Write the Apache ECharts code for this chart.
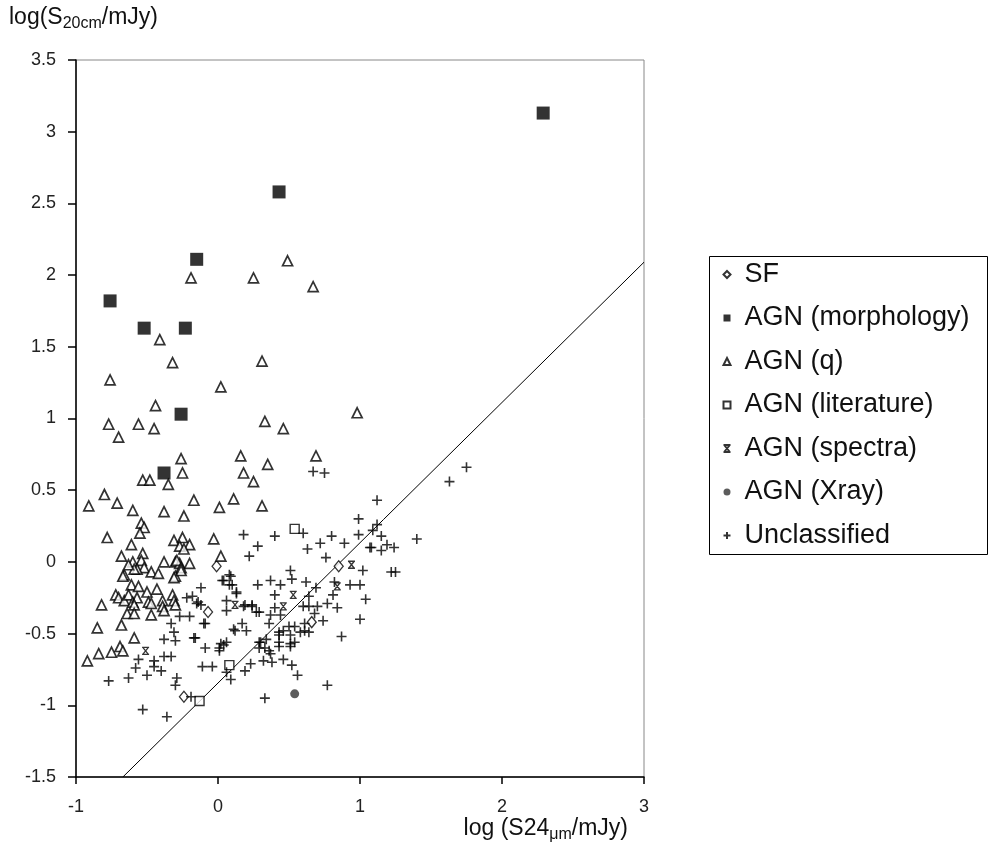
<!DOCTYPE html>
<html>
<head>
<meta charset="UTF-8">
<title>log S20cm vs log S24um</title>
<script src="https://cdn.jsdelivr.net/npm/echarts@6/dist/echarts.min.js"></script>
<style>
  html, body { margin: 0; padding: 0; background: #fff; }
  #container { width: 997px; height: 848px; }
</style>
</head>
<body>
<div id="container"></div>
<script type="text/javascript">
// values: [log S24um, log S20cm]
var sfPts = [[-0.01, -0.03], [-0.07, -0.35], [-0.24, -0.94], [0.85, -0.03], [0.66, -0.42]];

var morphPts = [[2.29, 3.13], [0.43, 2.58], [-0.15, 2.11], [-0.76, 1.82], [-0.52, 1.63],
  [-0.23, 1.63], [-0.26, 1.03], [-0.38, 0.62]];

var qPts = [[0.49, 2.10], [-0.19, 1.98], [0.25, 1.98], [0.67, 1.92], [-0.41, 1.55], [-0.32, 1.39],
  [0.31, 1.40], [-0.76, 1.27], [0.02, 1.22], [-0.44, 1.09], [0.98, 1.04], [-0.77, 0.96],
  [-0.56, 0.96], [-0.45, 0.93], [0.33, 0.98], [0.46, 0.93], [-0.70, 0.87], [-0.26, 0.72],
  [0.16, 0.74], [0.69, 0.74], [0.35, 0.68], [-0.53, 0.57], [-0.48, 0.57], [-0.25, 0.62],
  [-0.35, 0.54], [0.18, 0.62], [0.25, 0.56], [-0.80, 0.47], [-0.91, 0.39], [-0.71, 0.41],
  [-0.60, 0.36], [-0.38, 0.35], [-0.17, 0.43], [-0.24, 0.32], [0.01, 0.38], [0.11, 0.44],
  [0.31, 0.39], [-0.54, 0.27], [-0.52, 0.24], [-0.55, 0.20], [-0.78, 0.17], [-0.61, 0.12],
  [-0.31, 0.15], [-0.25, 0.17], [-0.27, 0.11], [-0.20, 0.12], [-0.24, 0.09], [-0.03, 0.16],
  [0.02, 0.04], [-0.68, 0.04], [-0.60, 0.00], [-0.53, 0.06], [-0.54, 0.01], [-0.52, -0.04],
  [-0.38, 0.00], [-0.30, 0.00], [-0.27, -0.01], [-0.20, -0.01], [-0.29, 0.01], [-0.26, -0.04],
  [-0.66, -0.09], [-0.47, -0.07], [-0.42, -0.08], [-0.30, -0.10], [-0.26, -0.06], [-0.57, -0.05],
  [-0.59, -0.05], [-0.63, -0.02], [-0.67, -0.10], [-0.61, -0.16], [-0.56, -0.17], [-0.31, -0.11],
  [-0.72, -0.23], [-0.70, -0.25], [-0.66, -0.27], [-0.63, -0.23], [-0.60, -0.28], [-0.57, -0.25],
  [-0.59, -0.30], [-0.50, -0.21], [-0.49, -0.28], [-0.47, -0.29], [-0.43, -0.19], [-0.39, -0.27],
  [-0.32, -0.23], [-0.31, -0.27], [-0.39, -0.31], [-0.30, -0.30], [-0.82, -0.30], [-0.64, -0.36],
  [-0.59, -0.36], [-0.47, -0.37], [-0.38, -0.34], [-0.85, -0.46], [-0.68, -0.44], [-0.59, -0.53],
  [-0.69, -0.59], [-0.67, -0.62], [-0.75, -0.63], [-0.84, -0.64], [-0.92, -0.69]];

var litPts = [[0.54, 0.23], [0.08, -0.72], [-0.13, -0.97]];

var specPts = [[0.94, -0.02], [0.84, -0.17], [0.12, -0.30], [-0.51, -0.62], [0.46, -0.31], [0.53, -0.23]];

var xrayPts = [[0.54, -0.92]];

var unclPts = [[0.18, 0.19], [0.28, 0.11], [0.22, 0.04], [0.08, -0.09], [0.67, 0.63], [0.75, 0.62],
  [0.40, 0.18], [0.60, 0.20], [0.72, 0.13], [0.80, 0.18], [0.63, 0.09], [0.89, 0.13], [0.99, 0.30],
  [0.99, 0.19], [1.08, 0.10], [1.12, 0.43], [0.76, 0.03], [1.02, -0.06], [0.51, -0.06], [0.52, -0.12],
  [0.62, -0.14], [0.69, -0.18], [0.82, -0.14], [0.93, -0.16], [1.00, -0.16], [0.81, -0.23],
  [1.04, -0.26], [0.77, -0.29], [0.84, -0.32], [1.00, -0.40], [0.87, -0.52], [0.40, -0.23],
  [0.28, -0.16], [0.37, -0.13], [0.44, -0.16], [0.03, -0.13], [0.09, -0.10], [0.08, -0.16],
  [0.13, -0.22], [-0.12, -0.18], [-0.22, -0.25], [-0.18, -0.24], [-0.14, -0.28], [-0.12, -0.30],
  [0.19, -0.30], [0.24, -0.30], [0.06, -0.34], [0.29, -0.35], [0.40, -0.32], [0.64, -0.24],
  [0.70, -0.31], [0.37, -0.37], [0.44, -0.37], [-0.10, -0.43], [0.17, -0.43], [0.20, -0.48],
  [0.12, -0.48], [0.36, -0.43], [0.43, -0.49], [0.46, -0.48], [0.50, -0.45], [0.54, -0.45],
  [0.51, -0.51], [0.58, -0.49], [0.61, -0.48], [0.64, -0.49], [0.61, -0.43], [0.74, -0.41],
  [-0.17, -0.53], [0.02, -0.57], [0.06, -0.56], [0.29, -0.56], [0.33, -0.60], [0.43, -0.59],
  [0.51, -0.59], [0.54, -0.56], [-0.27, -0.38], [-0.20, -0.38], [-0.09, -0.43], [-0.33, -0.43],
  [-0.31, -0.49], [-0.38, -0.54], [-0.30, -0.55], [-0.16, -0.53], [-0.56, -0.68], [-0.45, -0.69],
  [-0.38, -0.66], [-0.33, -0.66], [-0.58, -0.74], [-0.45, -0.73], [-0.40, -0.76], [-0.50, -0.79],
  [-0.77, -0.83], [-0.63, -0.81], [-0.29, -0.81], [-0.30, -0.86], [-0.09, -0.60], [0.01, -0.60],
  [0.04, -0.58], [0.01, -0.62], [-0.11, -0.73], [-0.04, -0.73], [0.06, -0.77], [0.09, -0.82],
  [-0.19, -0.94], [-0.53, -1.03], [-0.36, -1.08], [0.19, -0.76], [0.23, -0.71], [0.04, -0.13],
  [0.10, -0.16], [0.13, -0.21], [-0.15, -0.29], [0.06, -0.27], [0.18, -0.31], [0.24, -0.31],
  [0.27, -0.35], [0.11, -0.47], [0.33, -0.95], [0.77, -0.86], [0.56, -0.79], [0.52, -0.72],
  [0.46, -0.68], [0.38, -0.70], [0.32, -0.69], [0.36, -0.62], [0.37, -0.64], [0.43, -0.56],
  [0.43, -0.51], [0.51, -0.57], [0.30, -0.56], [0.34, -0.54], [0.29, -0.60], [1.75, 0.66],
  [1.63, 0.56], [1.12, 0.26], [1.09, 0.22], [1.40, 0.16], [1.15, 0.18], [1.07, 0.10], [1.15, 0.08],
  [1.19, 0.12], [1.24, 0.10], [1.22, -0.07], [1.25, -0.07], [0.68, -0.36], [0.60, -0.31],
  [0.64, -0.31]];

// dividing line
var lineX = [-0.67, 3];
var lineY = [-1.5, 2.09];

var seriesNames = ['SF', 'AGN (morphology)', 'AGN (q)', 'AGN (literature)', 'AGN (spectra)', 'AGN (Xray)', 'Unclassified'];

var plusPath = 'path://M5,0L5,10M0,5L10,5';
var specPath = 'path://M0,0L10,0M0,10L10,10M1,0L9,10M9,0L1,10';

var dom = document.getElementById('container');
var myChart = echarts.init(dom);
var font = '"Liberation Sans", Arial, sans-serif';

var option = {
    backgroundColor: '#fff',
    animation: false,
    grid: {
        left: 76, right: 353, top: 60, bottom: 71,
        show: true, borderColor: '#888', borderWidth: 1
    },
    xAxis: {
        type: 'value', min: -1, max: 3, interval: 1,
        axisLine: {show: true, onZero: false, lineStyle: {color: '#000', width: 1.5}},
        axisTick: {show: true, length: 7, lineStyle: {color: '#000', width: 1.5}},
        splitLine: {show: false},
        axisLabel: {color: '#222', fontSize: 18, fontFamily: font, margin: 21}
    },
    yAxis: {
        type: 'value', min: -1.5, max: 3.5, interval: 0.5,
        axisLine: {show: true, onZero: false, lineStyle: {color: '#000', width: 1.5}},
        axisTick: {show: true, length: 8, lineStyle: {color: '#000', width: 1.5}},
        splitLine: {show: false},
        axisLabel: {color: '#222', fontSize: 18, fontFamily: font, margin: 20}
    },
    legend: {
        data: seriesNames,
        orient: 'vertical',
        left: 716, top: 256,
        itemWidth: 7, itemHeight: 7,
        itemGap: 16.5,
        symbolKeepAspect: true,
        textStyle: {color: '#111', fontSize: 27, fontFamily: font, lineHeight: 27, padding: [0, 0, 0, 9]}
    },
    graphic: [
        {
            type: 'rect', left: 707, top: 254,
            shape: {width: 278, height: 298},
            style: {fill: 'none', stroke: '#000', lineWidth: 1}
        },
        {
            type: 'text', left: 9, top: 4,
            style: {
                text: '{a|log(S}{s|20cm}{a|/mJy)}',
                rich: {
                    a: {fontSize: 23, fontFamily: font, fill: '#111', lineHeight: 28},
                    s: {fontSize: 16, fontFamily: font, fill: '#111', lineHeight: 28, padding: [12, 0, 0, 0]}
                }
            }
        },
        {
            type: 'text', right: 369, top: 815,
            style: {
                text: '{a|log (S24}{s|\u03bcm}{a|/mJy)}',
                rich: {
                    a: {fontSize: 23, fontFamily: font, fill: '#111', lineHeight: 28},
                    s: {fontSize: 16, fontFamily: font, fill: '#111', lineHeight: 28, padding: [12, 0, 0, 0]}
                }
            }
        }
    ],
    series: [
        {
            name: 'divider', type: 'line', silent: true, showSymbol: false,
            data: lineX.map(function (x, i) { return [x, lineY[i]]; }),
            lineStyle: {color: '#000', width: 1}, z: 1
        },
        {
            name: 'SF', type: 'scatter', data: sfPts,
            symbol: 'diamond', symbolSize: [9, 11],
            itemStyle: {color: '#fff', borderColor: '#000', borderWidth: 1.3}
        },
        {
            name: 'AGN (morphology)', type: 'scatter', data: morphPts,
            symbol: 'rect', symbolSize: 13,
            itemStyle: {color: '#000'}
        },
        {
            name: 'AGN (q)', type: 'scatter', data: qPts,
            symbol: 'triangle', symbolSize: [10, 10],
            itemStyle: {color: '#fff', borderColor: '#000', borderWidth: 1.7}
        },
        {
            name: 'AGN (literature)', type: 'scatter', data: litPts,
            symbol: 'rect', symbolSize: 9,
            itemStyle: {color: '#fff', borderColor: '#000', borderWidth: 1.4}
        },
        {
            name: 'AGN (spectra)', type: 'scatter', data: specPts,
            symbol: specPath, symbolSize: [7, 7],
            itemStyle: {color: 'none', borderColor: '#000', borderWidth: 1.3}
        },
        {
            name: 'AGN (Xray)', type: 'scatter', data: xrayPts,
            symbol: 'circle', symbolSize: 9,
            itemStyle: {color: '#333'}
        },
        {
            name: 'Unclassified', type: 'scatter', data: unclPts,
            symbol: plusPath, symbolSize: 10,
            itemStyle: {color: 'none', borderColor: '#000', borderWidth: 1.6}
        }
    ]
};

myChart.setOption(option);
</script>
</body>
</html>
